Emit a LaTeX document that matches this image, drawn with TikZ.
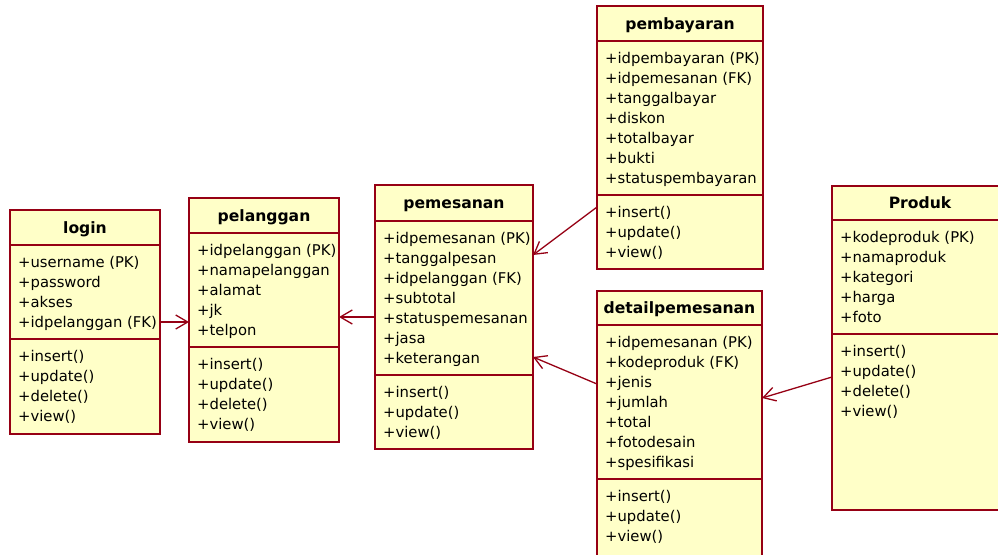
\documentclass[tikz,border=0pt]{standalone}
\usepackage{fontspec}
\setmainfont{DejaVu Sans}
\usetikzlibrary{arrows.meta}
\definecolor{classfill}{RGB}{255,255,200}
\definecolor{classedge}{RGB}{150,0,20}
\tikzset{
  classbox/.style={draw=classedge, fill=classfill, line width=1.5pt, anchor=north west,
    inner sep=0pt, outer sep=0pt},
  classline/.style={draw=classedge, line width=1.5pt},
  classtitle/.style={font=\fontsize{15.6}{18}\selectfont\bfseries, inner sep=0pt,
    text height=11pt, text depth=0pt},
  member/.style={font=\fontsize{14.8}{20}\selectfont, anchor=base west, inner sep=0pt},
  assoc/.style={draw=classedge, line width=1.3pt, -{Straight Barb[length=12pt,width=14pt]}},
}
% #1 name, #2 x, #3 y, #4 width, #5 height, #6 header rule y, #7 title,
% #8 attributes, #9 operations
\newcommand\umlclass[9]{%
  \node[classbox, minimum width=#4pt, minimum height=#5pt] (#1) at (#2,#3) {};
  \node[classtitle] (#1-title) at ({#2+#4/2},{(#3+#6)/2}) {#7};
  \draw[classline] (#2,#6) -- ({#2+#4},#6);
  \foreach \s [count=\i] in {#8} {
    \node[member] (#1-a\i) at ({#2+8},{#6+22+20*(\i-1)}) {\s};
    \xdef\lastattr{\i}}
  \pgfmathsetmacro\divtwo{#6+20*\lastattr+14}
  \draw[classline] (#2,\divtwo) -- ({#2+#4},\divtwo);
  \foreach \s [count=\i] in {#9} {
    \node[member] (#1-m\i) at ({#2+8},{\divtwo+22+20*(\i-1)}) {\s};}
}
\begin{document}
\begin{tikzpicture}[x=1pt,y=-1pt]
  \useasboundingbox (0,0) rectangle (998,554);
  \clip (0,0) rectangle (998,554);
  \fill[white] (0,0) rectangle (998,554);

  \umlclass{login}{10}{210}{150}{224}{245}{login}
    {+username (PK),+password,+akses,+idpelanggan (FK)}
    {+insert(),+update(),+delete(),+view()}
  \umlclass{pelanggan}{189}{198}{150}{244}{233}{pelanggan}
    {+idpelanggan (PK),+namapelanggan,+alamat,+jk,+telpon}
    {+insert(),+update(),+delete(),+view()}
  \umlclass{pemesanan}{375}{185}{158}{264}{221}{pemesanan}
    {+idpemesanan (PK),+tanggalpesan,+idpelanggan (FK),+subtotal,+statuspemesanan,+jasa,+keterangan}
    {+insert(),+update(),+view()}
  \umlclass{pembayaran}{597}{6}{166}{263}{41}{pembayaran}
    {+idpembayaran (PK),+idpemesanan (FK),+tanggalbayar,+diskon,+totalbayar,+bukti,+statuspembayaran}
    {+insert(),+update(),+view()}
  \umlclass{detail}{597}{291}{165}{290}{325}{detailpemesanan}
    {+idpemesanan (PK),+kodeproduk (FK),+jenis,+jumlah,+total,+fotodesain,+spesifikasi}
    {+insert(),+update(),+view()}
  \umlclass{produk}{832}{186}{176}{324}{220}{Produk}
    {+kodeproduk (PK),+namaproduk,+kategori,+harga,+foto}
    {+insert(),+update(),+delete(),+view()}

  % associations
  \draw[assoc] (login.east) -- (login.east -| pelanggan.west);
  \draw[assoc] (pemesanan.west) -- (pemesanan.west -| pelanggan.east);
  \draw[assoc] ([yshift=62pt]pembayaran.south west) -- ([yshift=-70pt]pemesanan.north east);
  \draw[assoc] ([yshift=-93pt]detail.north west) -- ([yshift=-172pt]pemesanan.north east);
  \draw[assoc] ([yshift=-191pt]produk.north west) -- ([yshift=-107pt]detail.north east);
\end{tikzpicture}
\end{document}
